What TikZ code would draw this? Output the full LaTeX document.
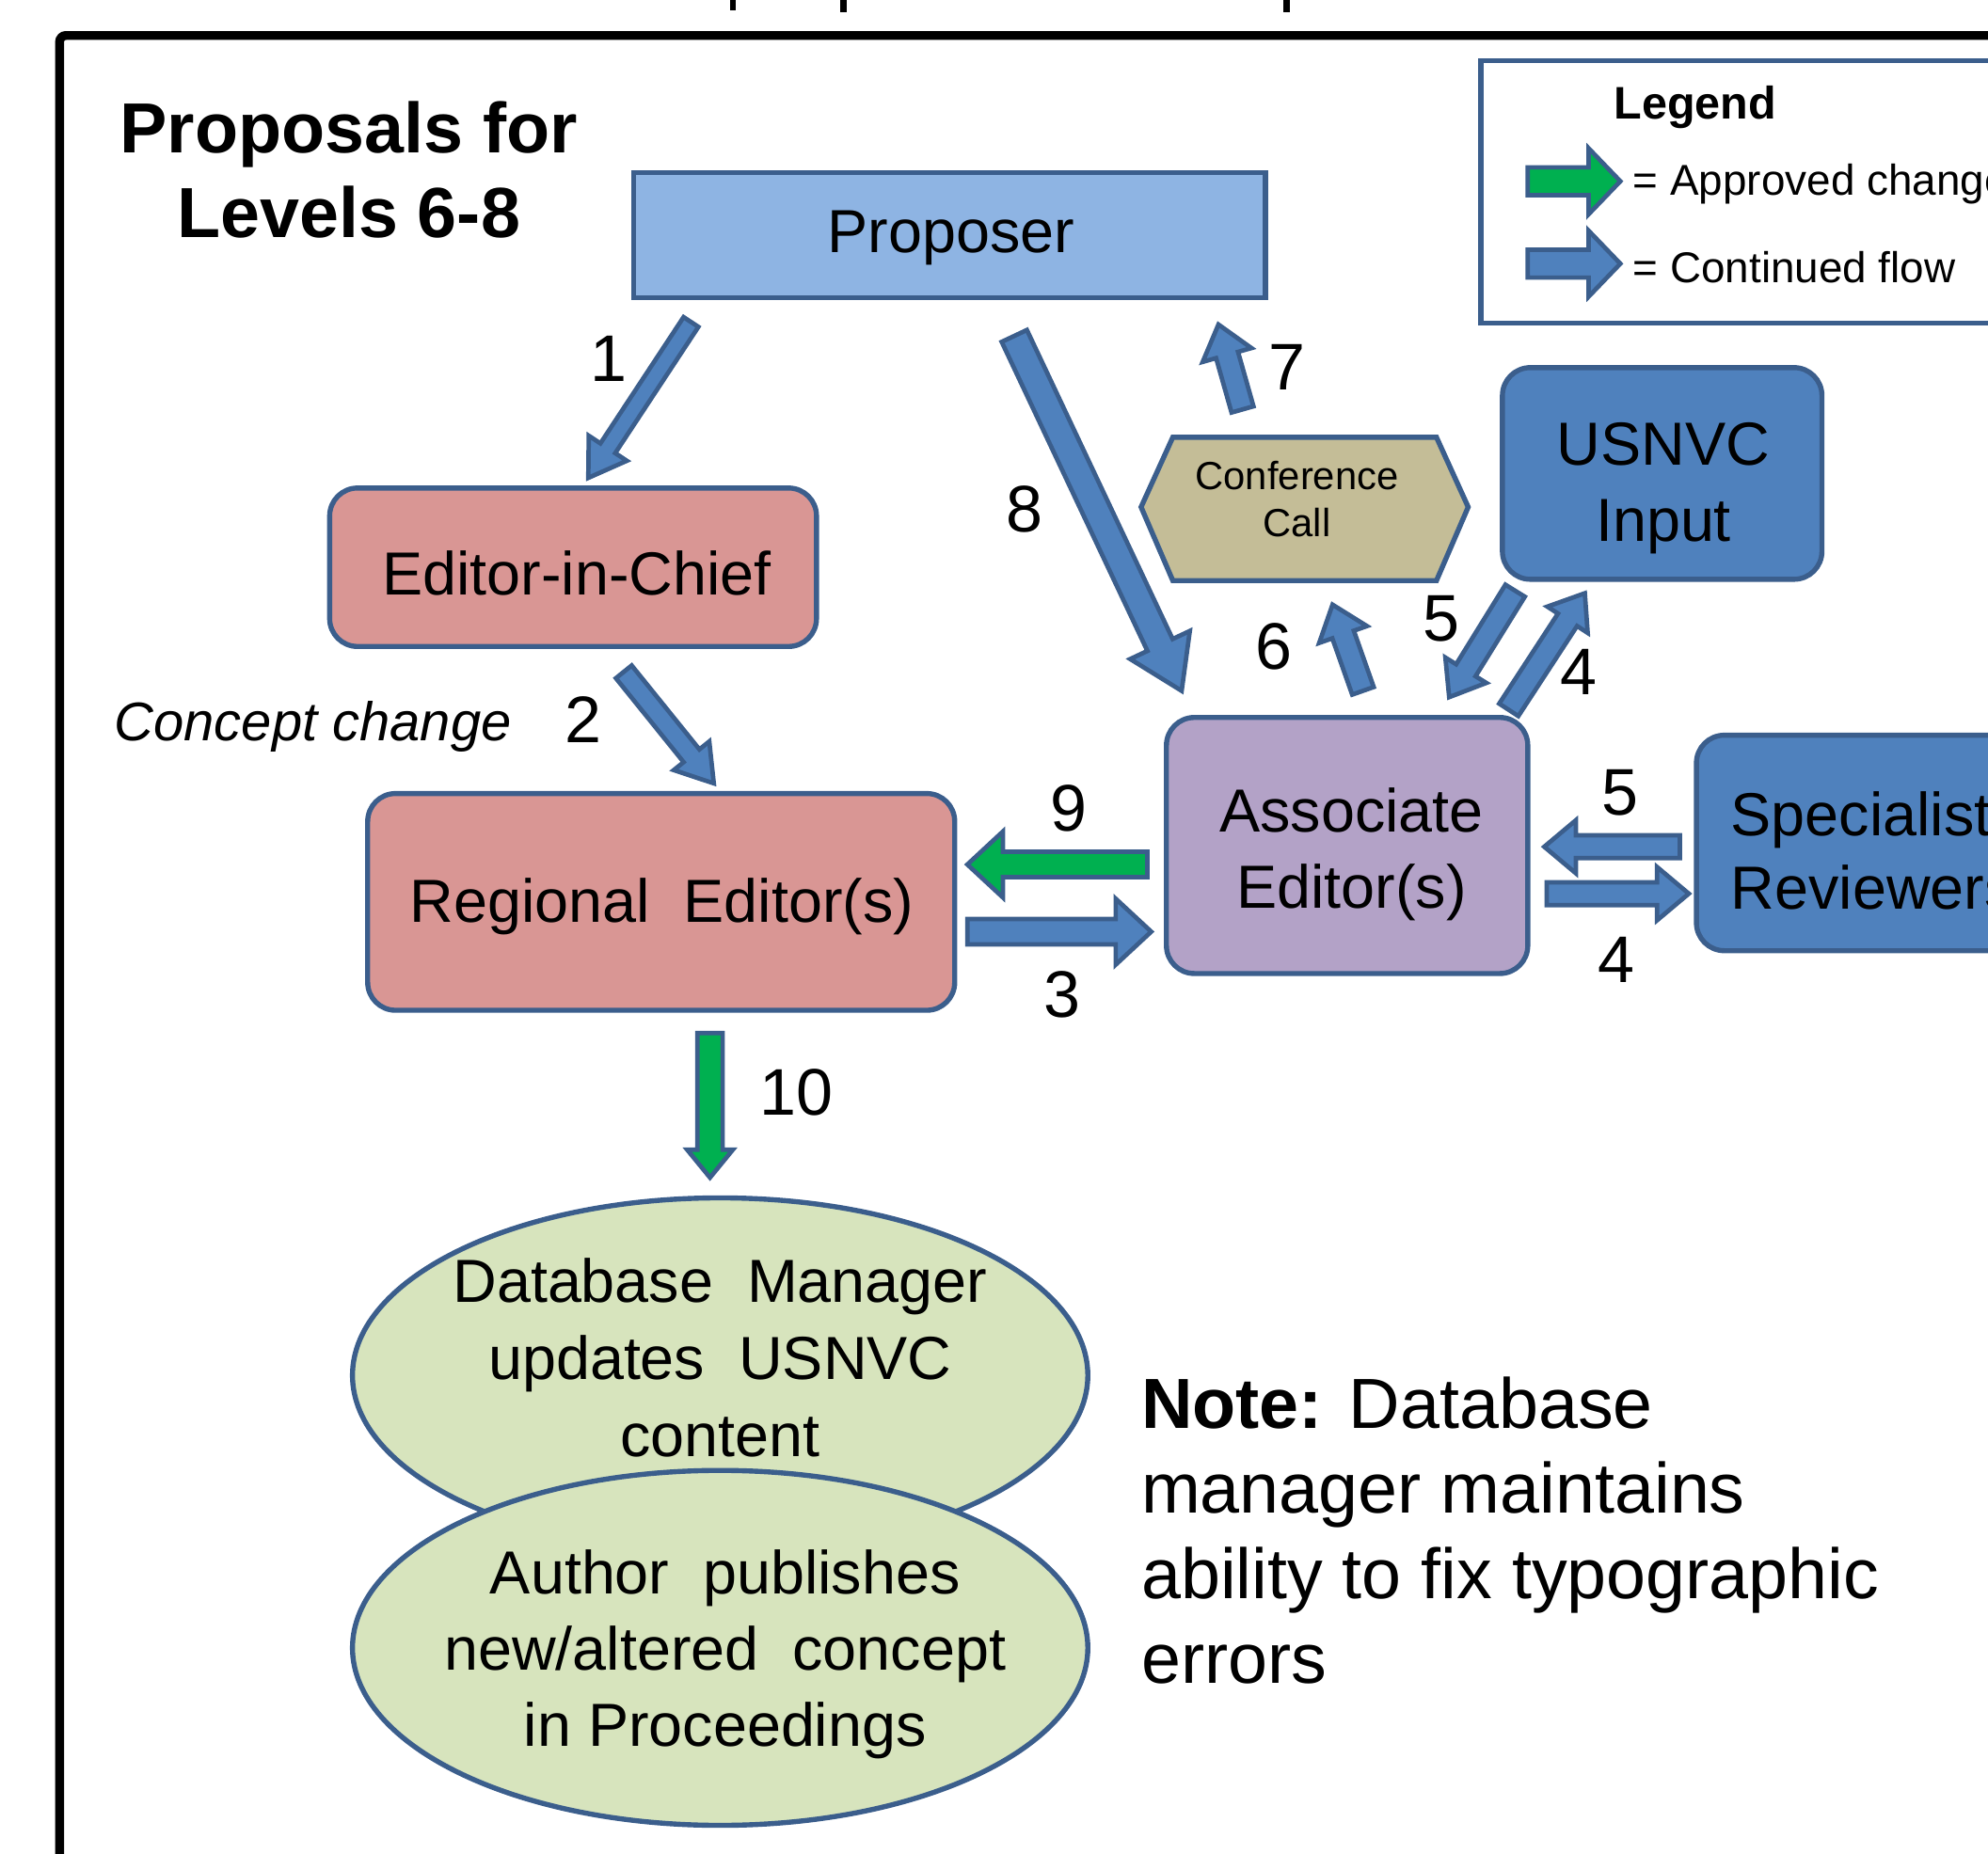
\documentclass[tikz,border=0pt]{standalone}
\usepackage{fontspec}
\setmainfont{Liberation Sans}
\usetikzlibrary{calc,shapes.geometric}
\definecolor{bord}{HTML}{3B5E8C}
\definecolor{propfill}{HTML}{8EB4E3}
\definecolor{pinkfill}{HTML}{D99694}
\definecolor{purpfill}{HTML}{B3A2C7}
\definecolor{tanfill}{HTML}{C4BD97}
\definecolor{bluefill}{HTML}{4F81BD}
\definecolor{ellfill}{HTML}{D7E4BD}
\definecolor{arrgreen}{HTML}{00B050}
\newcommand{\fsz}[2]{\fontsize{#1pt}{#2pt}\selectfont}
% block arrow: style, tail, tip, half shaft, half head, head length
\newcommand{\blockarrow}[6]{%
  \draw[#1] ($(#2)!#4pt!90:(#3)$)
    -- ($(#3)!#6pt!(#2)!#4pt!90:(#3)$)
    -- ($(#3)!#6pt!(#2)!#5pt!90:(#3)$)
    -- (#3)
    -- ($(#3)!#6pt!(#2)!#5pt!-90:(#3)$)
    -- ($(#3)!#6pt!(#2)!#4pt!-90:(#3)$)
    -- ($(#2)!#4pt!-90:(#3)$) -- cycle;}
\begin{document}
\begin{tikzpicture}[x=1pt,y=-1pt,
  box/.style={draw=bord, line width=4pt, inner sep=0pt},
  rbox/.style={box, rounded corners=22pt},
  txt/.style={inner sep=0pt, text=black},
  boxtext/.style={txt, font=\fsz{48}{60}, align=center},
  num/.style={txt, font=\fsz{52}{52}},
  bluearrow/.style={draw=bord, fill=bluefill, line width=3.5pt, line join=miter},
  greenarrow/.style={draw=bord, fill=arrgreen, line width=3.5pt, line join=miter},
  frameline/.style={line width=7pt, draw=black, rounded corners=5pt}]
\useasboundingbox (0,0) rectangle (1568,1462);
% outer frame and cut-off title fragments
\draw[frameline] (47,1530) -- (47,28) -- (1630,28);
\foreach \xx/\hh in {578/8,665/10,1015/10} \draw[line width=5pt] (\xx,-3) -- (\xx,\hh);
% title
\node[txt, font=\bfseries\fsz{56}{67}, align=center] (title) at (275,134) {Proposals for\\Levels 6-8};
% legend
\node[box, minimum width=472pt, minimum height=207pt] (leg) at (1404,151.5) {};
\node[txt, font=\bfseries\fsz{36}{40}] (legt) at (1337,85) {Legend};
\coordinate (lg1s) at (1205,143); \coordinate (lg1e) at (1278,143);
\coordinate (lg2s) at (1205,208); \coordinate (lg2e) at (1278,208);
\blockarrow{greenarrow}{lg1s}{lg1e}{11}{26}{25}
\blockarrow{bluearrow}{lg2s}{lg2e}{11}{26}{25}
\node[txt, anchor=west, font=\fsz{34}{40}] (lega) at (1288,145) {= Approved change};
\node[txt, anchor=west, font=\fsz{34}{40}] (legb) at (1288,211) {= Continued flow};
% boxes
\node[box, fill=propfill, minimum width=498pt, minimum height=99pt] (prop) at (749,185.5) {};
\node[boxtext] (propt) at (750,187.5) {Proposer};
\node[rbox, fill=pinkfill, minimum width=384pt, minimum height=125pt] (eic) at (452,447.5) {};
\node[boxtext] (eict) at (455,452) {Editor-in-Chief};
\node[rbox, fill=pinkfill, minimum width=463pt, minimum height=171pt] (re) at (521.5,711.5) {};
\node[boxtext] (ret) at (522,715) {Regional~~Editor(s)};
\node[rbox, fill=purpfill, minimum width=285pt, minimum height=202pt] (ae) at (1062.5,667) {};
\node[boxtext] (aet) at (1066,674) {Associate\\Editor(s)};
\node[rbox, fill=bluefill, minimum width=252pt, minimum height=167pt] (usnvc) at (1311,373.5) {};
\node[boxtext] (usnvct) at (1312,385) {USNVC\\Input};
\node[rbox, fill=bluefill, minimum width=302pt, minimum height=170pt] (spec) at (1489,665) {};
\node[boxtext, font=\fsz{48}{58}, align=left, anchor=west] (spect) at (1365,671) {Specialist\\Reviewers};
% conference call hexagon
\draw[box, fill=tanfill] (900,400) -- (925,345) -- (1133,345) -- (1158,400) -- (1133,458) -- (925,458) -- cycle;
\node[txt, font=\fsz{31}{37}, align=center] (conf) at (1023,394) {Conference\\Call};
% ellipses
\node[ellipse, draw=bord, line width=4pt, fill=ellfill, minimum width=580pt, minimum height=280pt, inner sep=0pt] (dbm) at (568,1085) {};
\node[txt, font=\fsz{48}{61}, align=center] (dbmt) at (568,1071) {Database~~Manager\\updates~~USNVC\\content};
\node[ellipse, draw=bord, line width=4pt, fill=ellfill, minimum width=580pt, minimum height=280pt, inner sep=0pt] (auth) at (568,1300) {};
\node[txt, font=\fsz{48}{60}, align=center] (autht) at (572,1305) {Author~~publishes\\new/altered~~concept\\in Proceedings};
% note and side label
\node[txt, anchor=north west, align=left, font=\fsz{56}{67}] (note) at (900,1086) {\textbf{Note:} Database\\manager maintains\\ability to fix typographic\\errors};
\node[txt, anchor=west, font=\itshape\fsz{43}{50}] (cchg) at (90,573) {Concept change};
% arrow end points
\coordinate (a1s) at (545,254);  \coordinate (a1e) at (464,377);
\coordinate (a2s) at (492,530);  \coordinate (a2e) at (563,618);
\coordinate (a8s) at (800,265);  \coordinate (a8e) at (932,545);
\coordinate (a7s) at (980,323);  \coordinate (a7e) at (961,256);
\coordinate (a6s) at (1075,545); \coordinate (a6e) at (1051,477);
\coordinate (a5s) at (1195,466); \coordinate (a5e) at (1143,550);
\coordinate (a4s) at (1190,560); \coordinate (a4e) at (1250,468);
\coordinate (a9s) at (905,682);  \coordinate (a9e) at (763,682);
\coordinate (a3s) at (763,735);  \coordinate (a3e) at (908,735);
\coordinate (b5s) at (1325,668); \coordinate (b5e) at (1218,668);
\coordinate (b4s) at (1220,705); \coordinate (b4e) at (1332,705);
\coordinate (a10s) at (560,815); \coordinate (a10e) at (560,929);
% arrows
\blockarrow{bluearrow}{a1s}{a1e}{7}{18}{28}
\blockarrow{bluearrow}{a2s}{a2e}{8}{18}{28}
\blockarrow{bluearrow}{a8s}{a8e}{11}{26}{40}
\blockarrow{bluearrow}{a7s}{a7e}{9}{20}{25}
\blockarrow{bluearrow}{a6s}{a6e}{9}{20}{25}
\blockarrow{bluearrow}{a5s}{a5e}{9}{19}{25}
\blockarrow{bluearrow}{a4s}{a4e}{9}{19}{25}
\blockarrow{greenarrow}{a9s}{a9e}{10}{26}{28}
\blockarrow{bluearrow}{a3s}{a3e}{10}{26}{28}
\blockarrow{bluearrow}{b5s}{b5e}{9}{21}{25}
\blockarrow{bluearrow}{b4s}{b4e}{9}{21}{25}
\blockarrow{greenarrow}{a10s}{a10e}{10}{18}{22}
% numbers
\node[num] (n1) at (480,283) {1};
\node[num] (n2) at (460,568) {2};
\node[num] (n8) at (808,402) {8};
\node[num] (n7) at (1015,290) {7};
\node[num] (n6) at (1005,510) {6};
\node[num] (n5) at (1137,488) {5};
\node[num] (n4) at (1245,530) {4};
\node[num] (n9) at (843,638) {9};
\node[num] (n3) at (838,785) {3};
\node[num] (n5b) at (1278,625) {5};
\node[num] (n4b) at (1275,757) {4};
\node[num] (n10) at (628,862) {10};
\end{tikzpicture}
\end{document}
